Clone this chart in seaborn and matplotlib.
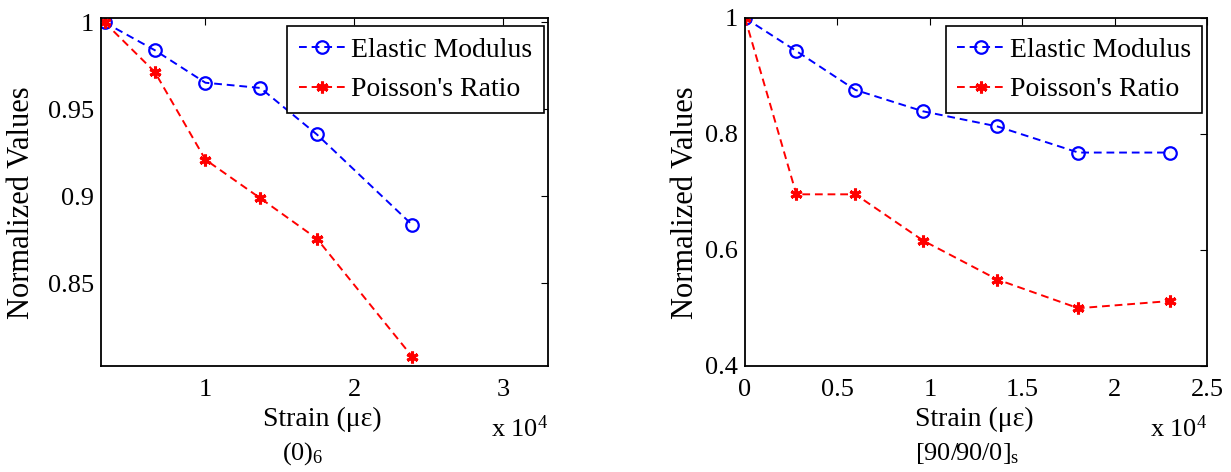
import matplotlib
matplotlib.use("Agg")
import matplotlib.pyplot as plt
import seaborn as sns
import numpy as np
import pandas as pd

# ---- data (strain in microstrain) ----
left_strain = [3230, 6600, 10000, 13690, 17480, 23900]
left_modulus = [1.0, 0.984, 0.9653, 0.9623, 0.9356, 0.8835]
left_poisson = [1.0, 0.9715, 0.9211, 0.8989, 0.8757, 0.8077]

right_strain = [0, 2780, 5970, 9650, 13660, 18040, 22990]
right_modulus = [1.0, 0.943, 0.876, 0.839, 0.813, 0.768, 0.768]
right_poisson = [1.0, 0.696, 0.696, 0.616, 0.549, 0.4996, 0.512]

left_xticks = [10000, 20000, 30000]
left_xticklabels = ["1", "2", "3"]
left_yticks = [0.85, 0.9, 0.95, 1.0]
left_yticklabels = ["0.85", "0.9", "0.95", "1"]
right_xticks = [0, 5000, 10000, 15000, 20000, 25000]
right_xticklabels = ["0", "0.5", "1", "1.5", "2", "2.5"]
right_yticks = [0.4, 0.6, 0.8, 1.0]
right_yticklabels = ["0.4", "0.6", "0.8", "1"]

series_names = ["Elastic Modulus", "Poisson's Ratio"]
xlabel = "Strain (με)"
ylabel = "Normalized Values"
captions = [r"(0)$_6$", r"[90/90/0]$_\mathrm{s}$"]

sns.set_style("white")
plt.rcParams["font.family"] = ["Liberation Serif", "DejaVu Serif"]
plt.rcParams["mathtext.fontset"] = "custom"
plt.rcParams["mathtext.rm"] = "Liberation Serif"
plt.rcParams["mathtext.it"] = "Liberation Serif:italic"
plt.rcParams["text.color"] = "black"
plt.rcParams["axes.labelcolor"] = "black"
plt.rcParams["xtick.color"] = "black"
plt.rcParams["ytick.color"] = "black"

FS_TICK = 19
FS_XLAB = 20
FS_YLAB = 22
FS_LEG = 20
FS_CAP = 19

fig = plt.figure(figsize=(12.31, 4.72), dpi=100)
ax1 = fig.add_axes([101/1231, 106/472, 447/1231, 348/472])
ax2 = fig.add_axes([745/1231, 106/472, 462/1231, 348/472])

asterisk = (6, 2, 0)

def draw(ax, xs, mod, poi):
    df = pd.DataFrame({"x": xs, "mod": mod, "poi": poi})
    sns.lineplot(data=df, x="x", y="mod", ax=ax, color=(0, 0, 1), linestyle="--",
                 linewidth=1.4, marker="o", markersize=9, markerfacecolor="none",
                 markeredgecolor=(0, 0, 1), markeredgewidth=1.6,
                 label=series_names[0], dashes=False)
    sns.lineplot(data=df, x="x", y="poi", ax=ax, color=(1, 0, 0), linestyle="--",
                 linewidth=1.4, marker=asterisk, markersize=8.5,
                 markeredgecolor=(1, 0, 0), markeredgewidth=2.2,
                 label=series_names[1], dashes=False)
    for ln in ax.get_lines():
        ln.set_dashes([4, 2.5])

draw(ax1, left_strain, left_modulus, left_poisson)
draw(ax2, right_strain, right_modulus, right_poisson)

ax1.set_xlim(2990, 33000)
ax1.set_ylim(0.8025, 1.0025)
ax1.set_xticks(left_xticks)
ax1.set_xticklabels(left_xticklabels)
ax1.set_yticks(left_yticks)
ax1.set_yticklabels(left_yticklabels)

ax2.set_xlim(0, 25000)
ax2.set_ylim(0.4, 1.0)
ax2.set_xticks(right_xticks)
ax2.set_xticklabels(right_xticklabels)
ax2.set_yticks(right_yticks)
ax2.set_yticklabels(right_yticklabels)

ylab_x = [-0.177, -0.128]
cap_x = [0.452, 0.48]
for ax, cap, yx, cx in zip([ax1, ax2], captions, ylab_x, cap_x):
    for sp in ax.spines.values():
        sp.set_visible(True)
        sp.set_color("black")
        sp.set_linewidth(1.3)
    ax.tick_params(direction="in", length=5, width=0.8, top=True, right=True,
                   labelsize=FS_TICK, colors="black", labelcolor="black")
    ax.tick_params(axis="x", pad=9)
    ax.tick_params(axis="y", pad=5)
    ax.set_xlabel(xlabel, fontsize=FS_XLAB, color="black")
    ax.xaxis.label.set_va("baseline")
    ax.xaxis.set_label_coords(0.496, -0.172)
    ax.set_ylabel(ylabel, fontsize=FS_YLAB, color="black")
    ax.yaxis.label.set_va("center")
    ax.yaxis.set_label_coords(yx, 0.47)
    ax.text(1.0, -0.204, r"x 10$^4$", transform=ax.transAxes, fontsize=FS_CAP,
            ha="right", va="baseline", color="black")
    ax.text(cx, -0.27, cap, transform=ax.transAxes, fontsize=FS_CAP,
            ha="center", va="baseline", color="black")
    leg = ax.legend(loc="upper right", bbox_to_anchor=(0.99, 0.976),
                    borderaxespad=0, fontsize=FS_LEG, frameon=True, fancybox=False,
                    edgecolor="black", framealpha=1, handlelength=1.7,
                    labelspacing=0.5, borderpad=0.4, handletextpad=0.2)
    leg.get_frame().set_linewidth(1.2)
    for t in leg.get_texts():
        t.set_color("black")
    ax.grid(False)

fig.savefig("out.png", dpi=100)
